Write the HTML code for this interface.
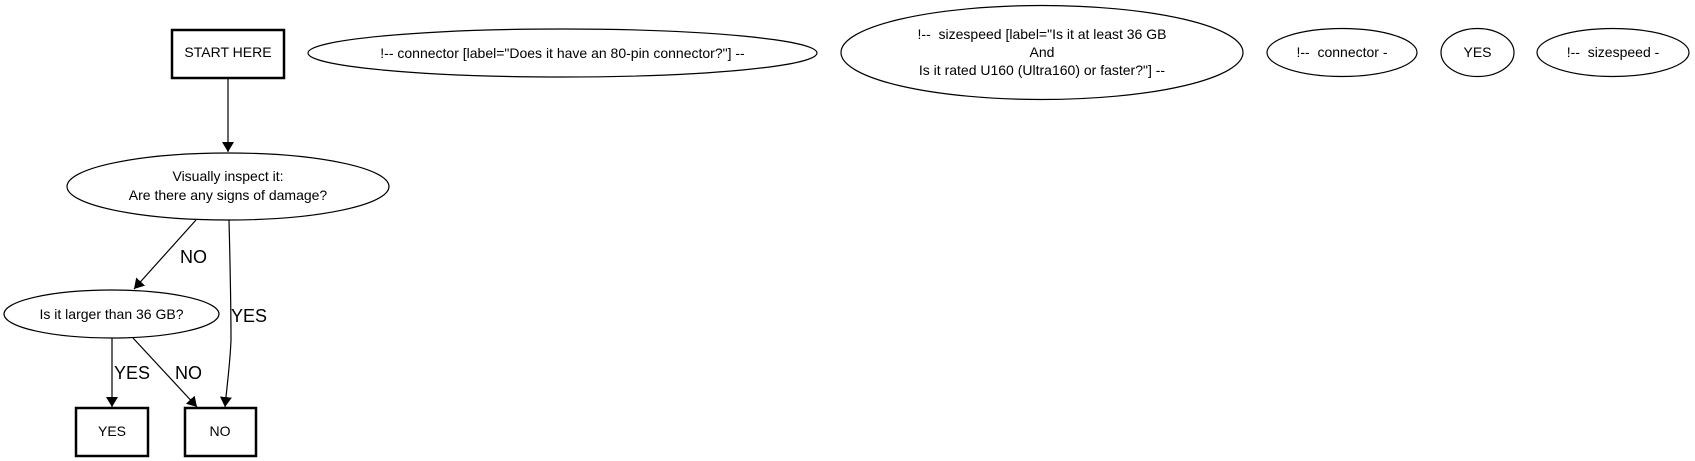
<!DOCTYPE html>
<html><head><style>body{margin:0;background:#fff}svg{display:block}</style></head><body>
<svg width="1695" height="461" xmlns="http://www.w3.org/2000/svg" font-family="Liberation Sans, sans-serif">
<defs><marker id="a" markerWidth="10" markerHeight="12" refX="10" refY="6" orient="auto" markerUnits="userSpaceOnUse"><path d="M0,0 L10,6 L0,12 z" fill="#000"/></marker></defs>
<g fill="none" stroke="#000">
<rect x="172" y="30" width="112" height="48" stroke-width="2.5"/>
<rect x="76" y="408" width="72" height="48" stroke-width="2.5"/>
<rect x="185" y="408" width="71" height="48" stroke-width="2.5"/>
<ellipse cx="228" cy="186.5" rx="161" ry="33.5" stroke-width="1.2"/>
<ellipse cx="111.5" cy="314" rx="107.5" ry="24" stroke-width="1.2"/>
<ellipse cx="562.5" cy="53" rx="254.5" ry="24" stroke-width="1.2"/>
<ellipse cx="1042" cy="52.5" rx="201" ry="47" stroke-width="1.2"/>
<ellipse cx="1342" cy="52.5" rx="75" ry="24" stroke-width="1.2"/>
<ellipse cx="1477.5" cy="52.5" rx="36.5" ry="24" stroke-width="1.2"/>
<ellipse cx="1613" cy="52.5" rx="76" ry="24" stroke-width="1.2"/>
<path d="M228,78 L228,152" stroke-width="1.2" marker-end="url(#a)"/>
<path d="M196,220 L134,289" stroke-width="1.2" marker-end="url(#a)"/>
<path d="M229,220 C230,260 231,300 231,340 C230,365 227,385 225,407" stroke-width="1.2" marker-end="url(#a)"/>
<path d="M112,338 L112,407" stroke-width="1.2" marker-end="url(#a)"/>
<path d="M133,338 L197,407" stroke-width="1.2" marker-end="url(#a)"/>
</g>
<g font-size="14" text-anchor="middle" fill="#000">
<text x="228" y="57">START HERE</text>
<text x="112" y="436">YES</text>
<text x="220" y="436">NO</text>
<text x="228" y="181">Visually inspect it:</text>
<text x="228" y="200">Are there any signs of damage?</text>
<text x="111.5" y="319">Is it larger than 36 GB?</text>
<text x="562.5" y="58">!-- connector [label="Does it have an 80-pin connector?"] --</text>
<text x="1042" y="39">!-- &#160;sizespeed [label="Is it at least 36 GB</text>
<text x="1042" y="57">And</text>
<text x="1042" y="75">Is it rated U160 (Ultra160) or faster?"] --</text>
<text x="1342" y="57">!-- &#160;connector -</text>
<text x="1477.5" y="57">YES</text>
<text x="1613" y="57">!-- &#160;sizespeed -</text>
</g>
<g font-size="18" fill="#000">
<text x="180" y="263">NO</text>
<text x="231" y="322">YES</text>
<text x="114" y="379">YES</text>
<text x="175" y="379">NO</text>
</g>
</svg>
</body></html>
